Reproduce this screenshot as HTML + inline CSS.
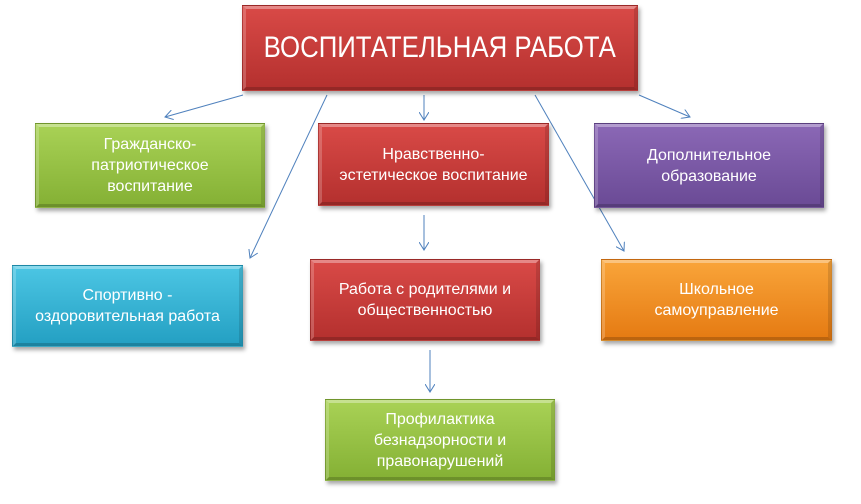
<!DOCTYPE html>
<html><head><meta charset="utf-8"><style>
body{margin:0;width:861px;height:504px;background:#fff;position:relative;overflow:hidden;font-family:"Liberation Sans","DejaVu Sans",sans-serif}
.b{position:absolute;display:flex;align-items:center;justify-content:center;text-align:center;color:#fff;font-size:16px;line-height:21px;box-shadow:2px 3px 4px rgba(0,0,0,.35);border:1px solid rgba(0,0,0,.15);box-sizing:border-box}
.b:before{content:"";position:absolute;inset:0;border-top:3px solid rgba(255,255,255,.35);border-left:3px solid rgba(255,255,255,.2);border-right:3px solid rgba(0,0,0,.12);border-bottom:3px solid rgba(0,0,0,.18)}
.r{background:linear-gradient(#d94a47,#b4302e)}
.g{background:linear-gradient(#a9d256,#84b034)}
.p{background:linear-gradient(#8b68b6,#6a4a95)}
.c{background:linear-gradient(#4cc6e4,#239fc2)}
.o{background:linear-gradient(#f9a53a,#e57a12)}
svg{position:absolute;left:0;top:0}
.t{white-space:nowrap;display:inline-block;transform:scaleX(0.86)}
</style></head><body>
<svg width="861" height="504"><defs><marker id="a" markerWidth="10" markerHeight="10" refX="8" refY="5" orient="auto" markerUnits="userSpaceOnUse"><path d="M0,0 L8,5 L0,10" fill="none" stroke="#4f81bd" stroke-width="1"/></marker></defs>
<g stroke="#4f81bd" stroke-width="1" fill="none" marker-end="url(#a)">
<line x1="243" y1="95" x2="165" y2="117"/>
<line x1="327" y1="95" x2="250" y2="258"/>
<line x1="424" y1="95" x2="424" y2="120"/>
<line x1="535" y1="95" x2="624" y2="251"/>
<line x1="639" y1="95" x2="690" y2="117"/>
<line x1="424" y1="215" x2="424" y2="250"/>
<line x1="430" y1="350" x2="430" y2="392"/>
</g></svg>
<div class="b r" style="left:242px;top:5px;width:396px;height:86px;font-size:30px;line-height:34px"><span class="t">ВОСПИТАТЕЛЬНАЯ РАБОТА</span></div>
<div class="b g" style="left:35px;top:123px;width:230px;height:85px">Гражданско-<br>патриотическое<br>воспитание</div>
<div class="b r" style="left:318px;top:123px;width:231px;height:83px">Нравственно-<br>эстетическое воспитание</div>
<div class="b p" style="left:594px;top:123px;width:230px;height:85px">Дополнительное<br>образование</div>
<div class="b c" style="left:12px;top:265px;width:231px;height:82px">Спортивно -<br>оздоровительная работа</div>
<div class="b r" style="left:310px;top:259px;width:230px;height:82px">Работа с родителями и<br>общественностью</div>
<div class="b o" style="left:601px;top:259px;width:231px;height:82px">Школьное<br>самоуправление</div>
<div class="b g" style="left:325px;top:399px;width:230px;height:82px">Профилактика<br>безнадзорности и<br>правонарушений</div>
</body></html>
